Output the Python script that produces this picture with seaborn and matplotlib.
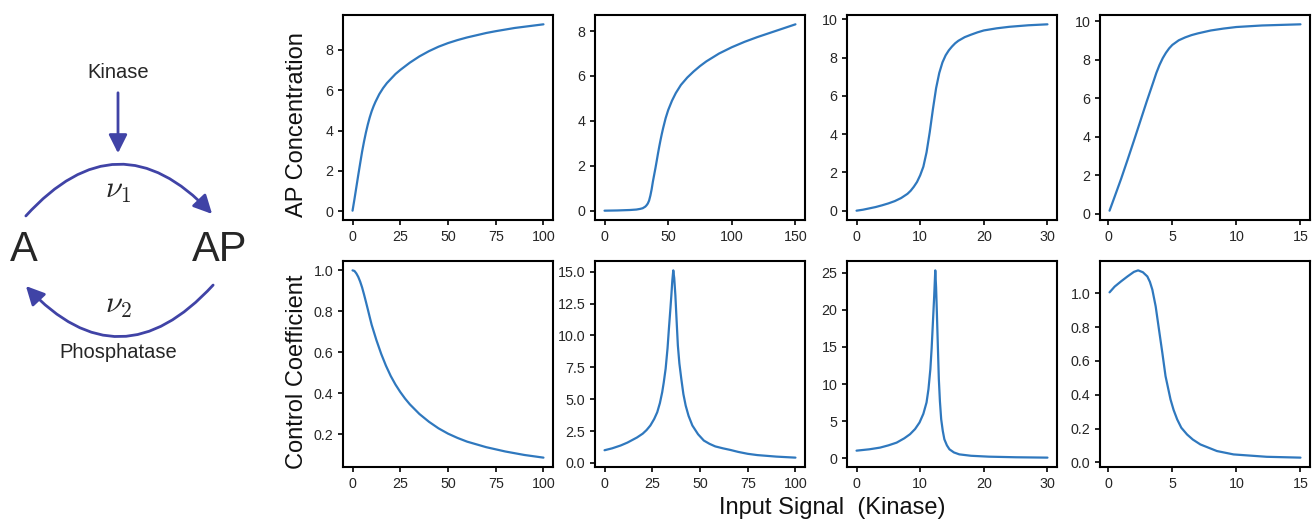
import numpy as np
import pandas as pd
import seaborn as sns
import matplotlib
matplotlib.use("Agg")
import matplotlib.pyplot as plt
from matplotlib.patches import FancyArrowPatch

# values
# top row: AP concentration vs kinase
x_ap1 = [0, 1, 2, 3, 4, 5, 6, 7, 8, 9, 10, 11, 12, 14, 16, 18, 20, 22.5, 25, 27.5, 30, 35, 40, 45, 50, 55, 60, 65, 70, 75, 80, 85, 90, 95, 100]
y_ap1 = [0.03, 0.6, 1.2, 1.8, 2.38, 2.95, 3.45, 3.9, 4.3, 4.65, 4.95, 5.2, 5.42, 5.8, 6.1, 6.35, 6.55, 6.8, 7.0, 7.18, 7.36, 7.67, 7.93, 8.15, 8.33, 8.48, 8.61, 8.72, 8.83, 8.92, 9.0, 9.08, 9.14, 9.2, 9.26]

x_ap2 = [0, 10, 20, 25, 28, 30, 32, 33, 34, 35, 36, 37, 38, 39, 40, 41, 42, 43, 44, 45, 46, 48, 50, 53, 56, 60, 65, 70, 75, 80, 90, 100, 110, 120, 130, 140, 150]
y_ap2 = [0.0, 0.01, 0.03, 0.05, 0.08, 0.11, 0.18, 0.24, 0.32, 0.45, 0.67, 0.95, 1.3, 1.6, 1.9, 2.22, 2.55, 2.86, 3.15, 3.42, 3.67, 4.12, 4.48, 4.9, 5.24, 5.6, 5.93, 6.2, 6.44, 6.65, 7.0, 7.28, 7.52, 7.73, 7.92, 8.11, 8.3]

x_ap3 = [0, 1, 2, 3, 4, 5, 6, 7, 8, 8.5, 9, 9.5, 10, 10.5, 11, 11.5, 12, 12.5, 13, 13.5, 14, 14.5, 15, 15.5, 16, 17, 18, 19, 20, 22, 24, 27, 30]
y_ap3 = [0.0, 0.05, 0.12, 0.19, 0.28, 0.38, 0.5, 0.66, 0.88, 1.04, 1.25, 1.5, 1.85, 2.3, 3.05, 4.1, 5.3, 6.4, 7.2, 7.75, 8.12, 8.38, 8.58, 8.75, 8.88, 9.07, 9.2, 9.32, 9.42, 9.53, 9.61, 9.69, 9.74]

x_ap4 = [0.1, 0.5, 1, 1.5, 2, 2.5, 3, 3.5, 3.75, 4, 4.25, 4.5, 4.75, 5, 5.5, 6, 6.5, 7, 8, 9, 10, 12, 15]
y_ap4 = [0.15, 0.88, 1.8, 2.78, 3.78, 4.8, 5.82, 6.8, 7.3, 7.72, 8.07, 8.35, 8.58, 8.76, 9.0, 9.15, 9.27, 9.36, 9.51, 9.61, 9.69, 9.77, 9.83]

# bottom row: control coefficient vs kinase
x_cc1 = [0, 1, 2, 3, 4, 5, 6, 7, 8, 9, 10, 11.5, 12.5, 15, 17.5, 20, 22.5, 25, 27.5, 30, 35, 40, 45, 50, 55, 60, 70, 80, 90, 100]
y_cc1 = [1.0, 0.997, 0.985, 0.968, 0.945, 0.917, 0.883, 0.847, 0.81, 0.772, 0.735, 0.69, 0.66, 0.593, 0.535, 0.485, 0.443, 0.407, 0.375, 0.347, 0.3, 0.262, 0.23, 0.204, 0.183, 0.165, 0.138, 0.117, 0.1, 0.087]

x_cc2 = [0, 4, 8.4, 12, 17, 20, 22, 24, 26, 27.6, 29, 30.2, 31, 32, 33, 33.7, 34.5, 35, 35.5, 36, 36.5, 37.1, 37.6, 38.4, 39.2, 40.2, 41.3, 42.5, 44, 46, 49, 52, 55, 58, 62, 66, 70, 75, 80, 90, 100]
y_cc2 = [1.0, 1.15, 1.37, 1.6, 2.0, 2.3, 2.58, 2.94, 3.45, 3.98, 4.7, 5.55, 6.3, 7.39, 9.0, 10.5, 12.1, 13.15, 14.3, 15.1, 14.5, 13.15, 11.6, 9.22, 7.8, 6.6, 5.4, 4.5, 3.7, 2.94, 2.25, 1.76, 1.5, 1.3, 1.15, 1.02, 0.87, 0.72, 0.62, 0.5, 0.42]

x_cc3 = [0, 2, 3.7, 5, 6.3, 7.5, 8.4, 9.2, 9.9, 10.5, 11.0, 11.3, 11.6, 11.8, 12.0, 12.2, 12.37, 12.5, 12.62, 12.78, 12.93, 13.1, 13.3, 13.55, 13.8, 14.2, 14.6, 15.3, 16.15, 18, 20.8, 25, 30]
y_cc3 = [1.04, 1.22, 1.45, 1.75, 2.12, 2.7, 3.25, 3.95, 4.83, 6.0, 7.53, 9.3, 12.0, 14.8, 18.3, 21.8, 25.3, 23.0, 19.7, 15.0, 10.7, 7.7, 5.27, 3.7, 2.57, 1.75, 1.22, 0.8, 0.54, 0.35, 0.23, 0.15, 0.1]

x_cc4 = [0.1, 0.5, 1, 1.5, 2, 2.33, 2.7, 3.05, 3.25, 3.44, 3.7, 3.96, 4.22, 4.47, 4.86, 5.1, 5.38, 5.7, 6.15, 6.6, 7.19, 8.48, 9.78, 12.36, 15]
y_cc4 = [1.006, 1.04, 1.071, 1.1, 1.127, 1.136, 1.125, 1.1, 1.068, 1.022, 0.923, 0.785, 0.648, 0.51, 0.372, 0.31, 0.254, 0.205, 0.165, 0.135, 0.106, 0.067, 0.047, 0.033, 0.028]

# x tick labels per column
xticks_col = [[0, 25, 50, 75, 100], [0, 50, 100, 150], [0, 10, 20, 30], [0, 5, 10, 15]]
xticks_bottom = [[0, 25, 50, 75, 100], [0, 25, 50, 75, 100], [0, 10, 20, 30], [0, 5, 10, 15]]

top_series = [(x_ap1, y_ap1), (x_ap2, y_ap2), (x_ap3, y_ap3), (x_ap4, y_ap4)]
bottom_series = [(x_cc1, y_cc1), (x_cc2, y_cc2), (x_cc3, y_cc3), (x_cc4, y_cc4)]

sns.set_style("ticks")
plt.rcParams['font.family'] = ['Liberation Sans', 'DejaVu Sans']
plt.rcParams['mathtext.fontset'] = 'cm'

W, H = 1316, 522
fig = plt.figure(figsize=(W / 100, H / 100), dpi=100)

line_col = '#2f78be'
cycle_col = '#4043a6'

lefts = [343, 595, 847, 1100]
ax_w = 210
rows = [(15, 220), (261, 467)]

for r, (series, ticks) in enumerate([(top_series, xticks_col), (bottom_series, xticks_bottom)]):
    top, bot = rows[r]
    for c, (xs, ys) in enumerate(series):
        ax = fig.add_axes([lefts[c] / W, 1 - bot / H, ax_w / W, (bot - top) / H])
        df = pd.DataFrame({'x': xs, 'y': ys})
        sns.lineplot(data=df, x='x', y='y', ax=ax, color=line_col, linewidth=1.6)
        ax.set_xticks(ticks[c])
        ax.set_xlabel('')
        ax.set_ylabel('')
        for sp in ax.spines.values():
            sp.set_linewidth(1.5)
            sp.set_color('black')
        ax.tick_params(direction='out', length=3.5, width=1.2, labelsize=10.3,
                       colors='black', labelcolor='#262626', pad=3.5)

fig.text(297 / W, 1 - 125 / H, 'AP Concentration', rotation=90, fontsize=17,
         ha='center', va='center', color='#111111')
fig.text(297 / W, 1 - 372 / H, 'Control Coefficient', rotation=90, fontsize=17,
         ha='center', va='center', color='#111111')
fig.text(832 / W, 1 - 508 / H, 'Input Signal  (Kinase)', fontsize=17,
         ha='center', va='center', color='#111111')

# reaction cycle diagram, drawn in pixel coordinates
dax = fig.add_axes([0, 0, 270 / W, 1])
dax.set_xlim(0, 270)
dax.set_ylim(H, 0)
dax.axis('off')

arrow_kw = dict(arrowstyle='-|>,head_length=0.8,head_width=0.4', mutation_scale=14,
                color=cycle_col, linewidth=2)
dax.add_patch(FancyArrowPatch((24, 218), (214, 216), connectionstyle='arc3,rad=-0.55', **arrow_kw))
dax.add_patch(FancyArrowPatch((215, 283), (24, 284), connectionstyle='arc3,rad=-0.55', **arrow_kw))
dax.add_patch(FancyArrowPatch((118, 90), (118, 156), connectionstyle='arc3,rad=0', **arrow_kw))

dax.text(118, 72, 'Kinase', fontsize=14.5, ha='center', va='center')
dax.text(118, 353, 'Phosphatase', fontsize=14.5, ha='center', va='center')
dax.text(24, 250, 'A', fontsize=30, ha='center', va='center')
dax.text(220, 250, 'AP', fontsize=30, ha='center', va='center')
dax.text(118, 190, r'$\nu_1$', fontsize=22, ha='center', va='center')
dax.text(118, 305, r'$\nu_2$', fontsize=22, ha='center', va='center')

fig.savefig('out.png', dpi=100)
